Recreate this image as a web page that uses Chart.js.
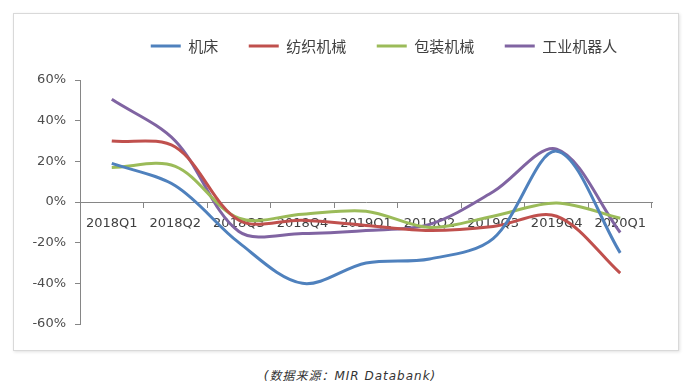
<!DOCTYPE html>
<html><head><meta charset="utf-8">
<script src="https://cdn.jsdelivr.net/npm/chart.js@4"></script>
<style>
html,body{margin:0;padding:0;background:#fff;}
body{width:700px;height:384px;position:relative;overflow:hidden;}
#frame{position:absolute;left:13px;top:13px;width:664px;height:336px;border:1px solid #d9d9d9;box-shadow:1px 1px 3px rgba(0,0,0,0.12);background:#fff;}
#wrap{position:absolute;left:0;top:0;width:664px;height:336px;}
#src{position:absolute;left:0;width:700px;top:366px;text-align:center;font:italic 12px "DejaVu Sans","Noto Sans CJK SC",sans-serif;letter-spacing:1px;color:#333;}
</style></head>
<body>
<div id="frame"><div id="wrap"><canvas id="c"></canvas></div></div>
<div id="src">(数据来源：MIR Databank)</div>
<script>
const categories = ['2018Q1','2018Q2','2018Q3','2018Q4','2019Q1','2019Q2','2019Q3','2019Q4','2020Q1'];
const seriesNames = ['机床','纺织机械','包装机械','工业机器人'];
const machineTool = [19, 8, -20, -40, -30, -28, -18, 25, -25];
const textileMachinery = [30, 27, -9, -9, -11.5, -14, -12, -7, -35];
const packagingMachinery = [17, 17.5, -8, -6, -4.5, -12.5, -7, -0.5, -8];
const industrialRobot = [50.5, 30, -14.5, -15.5, -14, -11, 5, 26, -15];
const yTickValues = [-60, -40, -20, 0, 20, 40, 60];
const colors = ['#4F81BD', '#C0504D', '#9BBB59', '#8064A2'];

const seriesValues = [machineTool, textileMachinery, packagingMachinery, industrialRobot];

const legendPlace = {
  id: 'legendPlace',
  afterLayout(chart) {
    const lg = chart.legend;
    if (!lg) return;
    const w = lg.right - lg.left;
    const h = lg.bottom - lg.top;
    const cx = 370;
    lg.left = cx - w / 2; lg.right = lg.left + w;
    const pad = lg.options.labels.padding;
    lg.top = 32 - pad - 7.5; lg.bottom = lg.top + h;
  }
};

new Chart(document.getElementById('c'), {
  type: 'line',
  data: {
    labels: categories,
    datasets: seriesNames.map((n, i) => ({
      label: n,
      data: seriesValues[i],
      borderColor: colors[i],
      backgroundColor: colors[i],
      borderWidth: 3,
      pointRadius: 0,
      pointHoverRadius: 0,
      tension: 0.33,
      fill: false
    }))
  },
  options: {
    responsive: true,
    maintainAspectRatio: false,
    animation: false,
    layout: { padding: { left: 0, right: 26, top: 10.5, bottom: 26 } },
    plugins: {
      tooltip: { enabled: false },
      legend: {
        position: 'top',
        labels: {
          boxWidth: 30,
          boxHeight: 3,
          padding: 30.5,
          color: '#404040',
          font: { family: '"Noto Sans CJK SC"', size: 15 },
          generateLabels(chart) {
            const items = Chart.defaults.plugins.legend.labels.generateLabels(chart);
            items.forEach(it => { it.lineWidth = 0; it.fillStyle = it.strokeStyle; });
            return items;
          }
        }
      }
    },
    scales: {
      x: {
        type: 'category',
        position: { y: 0 },
        offset: true,
        grid: { drawOnChartArea: false, drawTicks: true, tickLength: 5, offset: true, color: '#868686' },
        border: { display: true, color: '#868686', width: 1 },
        ticks: { font: { family: '"DejaVu Sans"', size: 13 }, color: '#404040', padding: 9, maxRotation: 0, autoSkip: false },
        afterFit(s) { s.height = 0; }
      },
      y: {
        min: -60, max: 60,
        grid: { drawOnChartArea: false, drawTicks: true, tickLength: 5, color: '#868686' },
        border: { display: true, color: '#868686', width: 1 },
        afterBuildTicks(s) { s.ticks = yTickValues.map(v => ({ value: v })); },
        ticks: { font: { family: '"DejaVu Sans"', size: 13 }, color: '#4d4d4d', padding: 9, callback: v => v + '%' },
        afterFit(s) { s.width = 66; }
      }
    }
  },
  plugins: [legendPlace]
});
</script>
</body></html>
